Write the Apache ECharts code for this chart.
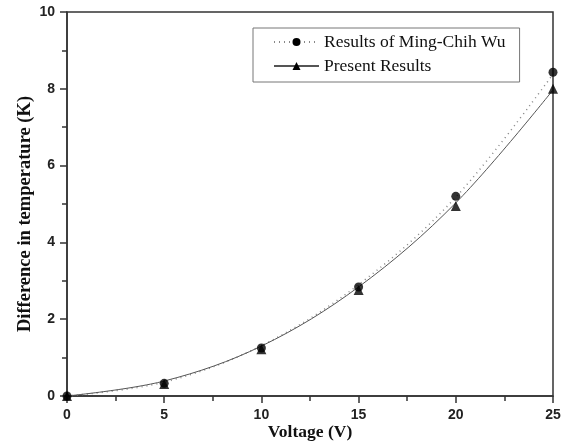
<!DOCTYPE html>
<html>
<head>
<meta charset="utf-8">
<script src="https://cdn.jsdelivr.net/npm/echarts@6/dist/echarts.min.js"></script>
<style>
html,body{margin:0;padding:0;background:#fff;}
#chart{width:565px;height:442px;}
</style>
</head>
<body>
<div id="chart"></div>
<script>
// Voltage steps (V)
const voltage = [0, 5, 10, 15, 20, 25];
// Measured temperature differences (K)
const wuPoints = [0, 0.33, 1.25, 2.84, 5.20, 8.43];
const presentPoints = [0, 0.31, 1.22, 2.76, 4.95, 8.00];
// Fitted curves through each data set (K)
const wuCurve = [0, 0.36, 1.31, 2.90, 5.18, 8.38];
const presentCurve = [0, 0.39, 1.30, 2.84, 5.03, 7.97];

const nameWu = 'Results of Ming-Chih Wu';
const namePresent = 'Present Results';

const pairs = (xs, ys) => xs.map((x, i) => [x, ys[i]]);

const chart = echarts.init(document.getElementById('chart'));
const axisColor = '#333';
chart.setOption({
  animation: false,
  grid: {
    left: 67, right: 12, top: 12, bottom: 46,
    outerBoundsMode: 'none',
    show: true, borderColor: axisColor, borderWidth: 1.5
  },
  legend: {
    data: [nameWu, namePresent],
    orient: 'vertical',
    left: 253, top: 28,
    padding: [5, 14, 7, 20],
    itemGap: 6,
    itemWidth: 45, itemHeight: 10,
    borderColor: '#777', borderWidth: 1,
    textStyle: { fontFamily: 'Liberation Serif', fontSize: 17.5, color: '#111' }
  },
  xAxis: {
    type: 'value', min: 0, max: 25, interval: 5,
    name: 'Voltage (V)', nameLocation: 'middle', nameGap: 27, nameMoveOverlap: false,
    nameTextStyle: { fontFamily: 'Liberation Serif', fontWeight: 'bold', fontSize: 17.5, color: '#111' },
    axisLine: { onZero: false, lineStyle: { color: axisColor, width: 1.5 } },
    axisTick: { show: true, inside: false, length: 7, lineStyle: { color: axisColor, width: 1.5 } },
    minorTick: { show: true, splitNumber: 2, length: 5, lineStyle: { color: axisColor, width: 1.5 } },
    axisLabel: { fontFamily: 'Liberation Sans', fontWeight: 'bold', fontSize: 14, color: '#222', margin: 12 },
    splitLine: { show: false }
  },
  yAxis: {
    type: 'value', min: 0, max: 10, interval: 2,
    name: 'Difference in temperature (K)', nameLocation: 'middle', nameGap: 32, nameMoveOverlap: false,
    nameTextStyle: { fontFamily: 'Liberation Serif', fontWeight: 'bold', fontSize: 18.5, color: '#111', padding: [0, 20, 0, 0] },
    axisLine: { show: true, onZero: false, lineStyle: { color: axisColor, width: 1.5 } },
    axisTick: { show: true, inside: false, length: 7, lineStyle: { color: axisColor, width: 1.5 } },
    minorTick: { show: true, splitNumber: 2, length: 5, lineStyle: { color: axisColor, width: 1.5 } },
    axisLabel: { fontFamily: 'Liberation Sans', fontWeight: 'bold', fontSize: 14, color: '#222', margin: 12 },
    splitLine: { show: false }
  },
  series: [
    {
      name: nameWu, type: 'line', smooth: 0.35,
      data: pairs(voltage, wuCurve),
      showSymbol: false, symbol: 'circle', symbolSize: 9,
      itemStyle: { color: '#000' },
      lineStyle: { color: '#888', width: 1.5, type: [1, 4] },
      z: 2
    },
    {
      name: namePresent, type: 'line', smooth: 0.35,
      data: pairs(voltage, presentCurve),
      showSymbol: false, symbol: 'triangle', symbolSize: 10,
      itemStyle: { color: '#000' },
      lineStyle: { color: '#555', width: 1 },
      z: 2
    },
    {
      name: nameWu + ' points', type: 'scatter',
      data: pairs(voltage, wuPoints),
      symbol: 'circle', symbolSize: 9,
      itemStyle: { color: '#000' }, z: 3
    },
    {
      name: namePresent + ' points', type: 'scatter',
      data: pairs(voltage, presentPoints),
      symbol: 'triangle', symbolSize: 10,
      itemStyle: { color: '#000' }, z: 4
    }
  ]
});
</script>
</body>
</html>
